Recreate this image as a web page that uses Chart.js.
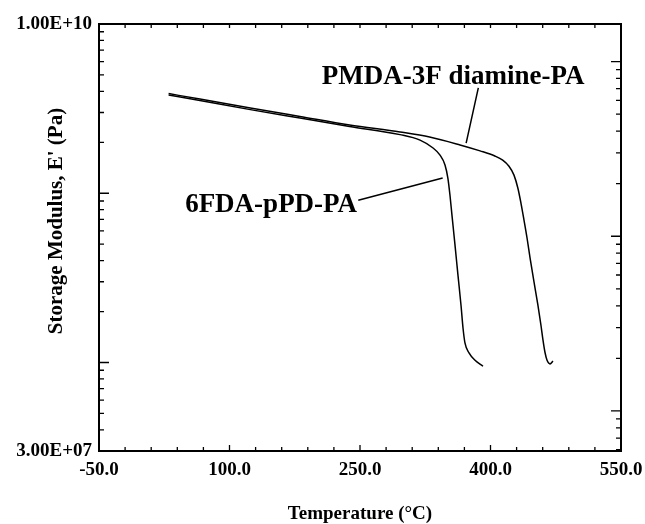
<!DOCTYPE html>
<html>
<head>
<meta charset="utf-8">
<script src="https://cdn.jsdelivr.net/npm/chart.js@4.4.1/dist/chart.umd.min.js"></script>
<style>
  html, body { margin: 0; padding: 0; background: #fff; }
  canvas { display: block; }
</style>
</head>
<body>
<canvas id="dma" width="645" height="524"></canvas>
<script>
// Storage modulus vs temperature
const pmdaTemp = [30, 66, 124, 181, 238, 296, 330, 365, 388, 405, 414, 421, 427, 431.5, 435, 438.5, 442, 445.5, 450, 454.5, 458, 460.3, 462.6, 465, 468.4, 471.8];
const pmdaModulus = [3.88e9, 3.60e9, 3.19e9, 2.84e9, 2.53e9, 2.30e9, 2.15e9, 1.93e9, 1.78e9, 1.66e9, 1.57e9, 1.45e9, 1.28e9, 1.07e9, 8.75e8, 6.94e8, 5.44e8, 4.14e8, 2.99e8, 2.18e8, 1.66e8, 1.36e8, 1.15e8, 1.03e8, 9.8e7, 1.02e8];

const sixfdaTemp = [30, 66, 124, 181, 238, 296, 319, 334, 342, 347.7, 351, 353.4, 355.7, 359.2, 362.6, 366.1, 368.4, 370.7, 375.3, 382.2, 391.4];
const sixfdaModulus = [3.81e9, 3.53e9, 3.12e9, 2.78e9, 2.48e9, 2.22e9, 2.06e9, 1.85e9, 1.68e9, 1.47e9, 1.23e9, 9.76e8, 7.43e8, 4.94e8, 3.28e8, 2.18e8, 1.60e8, 1.30e8, 1.14e8, 1.03e8, 9.5e7];

// axes
const xTickLabels = [-50, 100, 250, 400, 550];
const xMinorStep = 30;
const yTickLabels = [3e7, 1e10];
const rightAxisRange = [0.0059, 1.64]; // unlabelled right-hand log axis

// callouts: text anchor, leader start, leader end (data units)
const labelNames = ['PMDA-3F diamine-PA', '6FDA-pPD-PA'];
const labelAt = [[206, 4.45e9], [49, 7.74e8]];
const leaderFrom = [[386, 4.19e9], [248, 9.1e8]];
const leaderTo = [[372, 1.98e9], [345, 1.23e9]];

const SERIF = '"Liberation Serif", "Times New Roman", serif';

function sci(v) {
  const [m, e] = v.toExponential(2).split('e');
  const n = parseInt(e, 10);
  return m + 'E' + (n < 0 ? '-' : '+') + String(Math.abs(n)).padStart(2, '0');
}

function logTicks(min, max) {
  const out = [];
  for (let p = Math.floor(Math.log10(min)); p <= Math.ceil(Math.log10(max)); p++) {
    for (let m = 1; m < 10; m++) {
      const v = m * Math.pow(10, p);
      if (v >= min * 0.999 && v <= max * 1.001) out.push({v, major: m === 1});
    }
  }
  return out;
}

const framePlugin = {
  id: 'framePlugin',
  afterDraw(chart) {
    const {ctx, chartArea: {left, right, top, bottom}, scales: {x, y, y2}} = chart;
    ctx.save();
    ctx.strokeStyle = '#000';
    ctx.fillStyle = '#000';

    // inward tick marks
    ctx.lineWidth = 1.3;
    ctx.beginPath();
    for (let v = xTickLabels[0]; v <= xTickLabels[xTickLabels.length - 1] + 0.01; v += xMinorStep) {
      const px = x.getPixelForValue(v);
      const major = xTickLabels.includes(v);
      ctx.moveTo(px, bottom); ctx.lineTo(px, bottom - (major ? 6 : 4));
      ctx.moveTo(px, top); ctx.lineTo(px, top + 4);
    }
    logTicks(y.min, y.max).forEach(t => {
      const py = y.getPixelForValue(t.v);
      ctx.moveTo(left, py); ctx.lineTo(left + (t.major ? 10 : 5), py);
    });
    logTicks(rightAxisRange[0], rightAxisRange[1]).forEach(t => {
      const py = y2.getPixelForValue(t.v);
      ctx.moveTo(right, py); ctx.lineTo(right - (t.major ? 10 : 5), py);
    });
    ctx.stroke();

    // frame
    ctx.lineWidth = 2;
    ctx.strokeRect(left, top, right - left, bottom - top);

    // callouts
    ctx.lineWidth = 1.5;
    ctx.beginPath();
    leaderFrom.forEach((f, i) => {
      ctx.moveTo(x.getPixelForValue(f[0]), y.getPixelForValue(f[1]));
      ctx.lineTo(x.getPixelForValue(leaderTo[i][0]), y.getPixelForValue(leaderTo[i][1]));
    });
    ctx.stroke();
    ctx.font = 'bold 27px ' + SERIF;
    ctx.textAlign = 'left';
    ctx.textBaseline = 'alphabetic';
    labelNames.forEach((name, i) => {
      ctx.fillText(name, x.getPixelForValue(labelAt[i][0]), y.getPixelForValue(labelAt[i][1]));
    });

    // y axis title, sits a little above centre in the original
    ctx.translate(57, 221);
    ctx.rotate(-Math.PI / 2);
    ctx.font = 'bold 21px ' + SERIF;
    ctx.textAlign = 'center';
    ctx.textBaseline = 'middle';
    ctx.fillText("Storage Modulus, E' (Pa)", 0, 0);
    ctx.restore();
  }
};

const toPoints = (xs, ys) => xs.map((t, i) => ({x: t, y: ys[i]}));

const lineStyle = {
  showLine: true,
  borderColor: '#000',
  borderWidth: 1.5,
  pointRadius: 0,
  cubicInterpolationMode: 'monotone'
};

new Chart(document.getElementById('dma').getContext('2d'), {
  type: 'scatter',
  data: {
    datasets: [
      Object.assign({label: 'PMDA-3F diamine-PA', data: toPoints(pmdaTemp, pmdaModulus)}, lineStyle),
      Object.assign({label: '6FDA-pPD-PA', data: toPoints(sixfdaTemp, sixfdaModulus)}, lineStyle)
    ]
  },
  options: {
    responsive: false,
    animation: false,
    layout: {padding: {top: 24, left: 0, right: 0, bottom: 0}},
    plugins: {legend: {display: false}, tooltip: {enabled: false}},
    scales: {
      x: {
        type: 'linear',
        min: -50,
        max: 550,
        grid: {display: false, drawTicks: false},
        border: {display: false},
        afterBuildTicks: s => { s.ticks = xTickLabels.map(v => ({value: v})); },
        afterFit: s => { s.height = 73; s.paddingLeft = 0; s.paddingRight = 0; },
        ticks: {
          autoSkip: false,
          maxRotation: 0,
          padding: 8,
          color: '#000',
          font: {family: SERIF, size: 19, weight: 'bold'},
          callback: v => v.toFixed(1)
        },
        title: {
          display: true,
          text: 'Temperature (°C)',
          color: '#000',
          padding: {top: 0, bottom: 0},
          font: {family: SERIF, size: 19, weight: 'bold', lineHeight: 1}
        }
      },
      y: {
        type: 'logarithmic',
        min: 3e7,
        max: 1e10,
        grid: {display: false, drawTicks: false},
        border: {display: false},
        afterBuildTicks: s => { s.ticks = yTickLabels.map(v => ({value: v})); },
        afterFit: s => { s.width = 99; s.paddingTop = 0; s.paddingBottom = 0; },
        ticks: {
          autoSkip: false,
          padding: 7,
          color: '#000',
          font: {family: SERIF, size: 19, weight: 'bold'},
          callback: v => sci(v)
        }
      },
      y2: {
        type: 'logarithmic',
        position: 'right',
        min: rightAxisRange[0],
        max: rightAxisRange[1],
        grid: {display: false, drawTicks: false},
        border: {display: false},
        ticks: {display: false},
        afterFit: s => { s.width = 24; s.paddingTop = 0; s.paddingBottom = 0; }
      }
    }
  },
  plugins: [framePlugin]
});
</script>
</body>
</html>
